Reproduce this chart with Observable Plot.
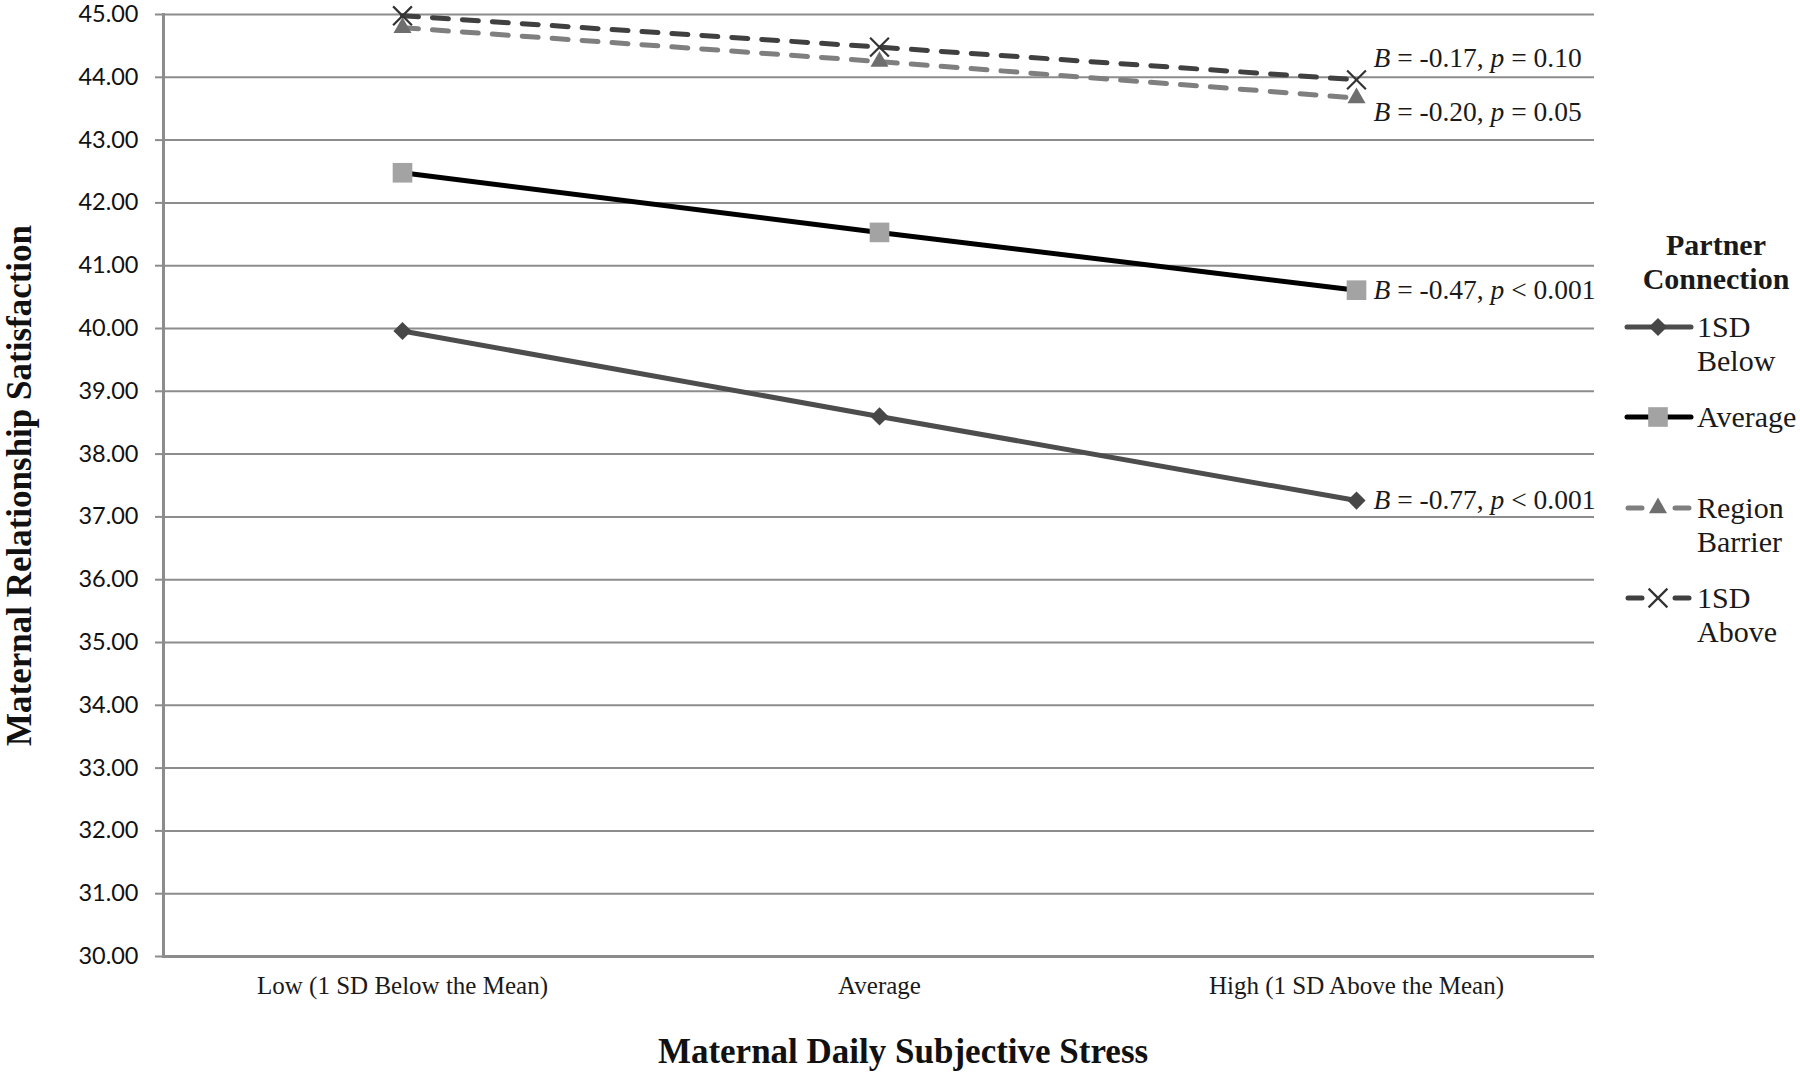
<!DOCTYPE html>
<html>
<head>
<meta charset="utf-8">
<script src="https://cdn.jsdelivr.net/npm/d3@7"></script>
<script src="https://cdn.jsdelivr.net/npm/@observablehq/plot@0.6"></script>
<style>
  html, body { margin: 0; padding: 0; background: #fff; }
  #wrap { position: relative; width: 1800px; height: 1074px; }
  svg g[aria-label="y-axis label"], svg g[aria-label="x-axis label"] {
    font-family: "Liberation Serif", serif; font-weight: bold; font-size: 35px; fill: #111;
  }
  #legend { position: absolute; left: 1625px; top: 228px; font-family: "Liberation Serif", serif; color: #1a1a1a; }
  #legend .title { position: absolute; left: -9px; width: 200px; text-align: center; font-weight: bold; font-size: 30px; line-height: 34px; top: 0; }
  #legend .item { position: absolute; left: 0; height: 90px; width: 175px; }
  #legend .item svg { position: absolute; left: 0; top: 8px; }
  #legend .item .lab { position: absolute; left: 72px; top: 2px; width: 110px; font-size: 30px; line-height: 34px; }
</style>
</head>
<body>
<div id="wrap"></div>
<script>
// ---- data ----
const categories = ["Low (1 SD Below the Mean)", "Average", "High (1 SD Above the Mean)"];
const seriesNames = ["1SD Below", "Average", "Region Barrier", "1SD Above"];
const below   = [39.96, 38.60, 37.26];
const average = [42.48, 41.53, 40.61];
const barrier = [44.79, 44.25, 43.67];
const above   = [44.98, 44.48, 43.96];
const annotations = ["B = -0.77, p < 0.001", "B = -0.47, p < 0.001", "B = -0.20, p = 0.05", "B = -0.17, p = 0.10"];
const yTicks = [30, 31, 32, 33, 34, 35, 36, 37, 38, 39, 40, 41, 42, 43, 44, 45];
const legendTitle = "Partner Connection";
const xTitle = "Maternal Daily Subjective Stress";
const yTitle = "Maternal Relationship Satisfaction";

// ---- styles (separate from data) ----
const seriesValues = [below, average, barrier, above];
const styles = [
  {line: "#4d4d4d", dash: null, symbol: "diamond2", r: 8.2, fill: "#474747", stroke: "none", annDy: 0},
  {line: "#000000", dash: null, symbol: "square2", r: 12.5, fill: "#a3a3a3", stroke: "none", annDy: 0},
  {line: "#7f7f7f", dash: "16,14", symbol: "triangle2", r: 8.6, fill: "#6e6e6e", stroke: "none", annDy: 14},
  {line: "#404040", dash: "16,14", symbol: "times", r: 8.6, fill: "none", stroke: "#333333", annDy: -22}
];

const rows = [];
seriesNames.forEach((s, i) => categories.forEach((c, j) => rows.push({series: s, cat: c, value: seriesValues[i][j], idx: i})));

const marks = [
  Plot.gridY(yTicks, {stroke: "#8c8c8c", strokeOpacity: 1, strokeWidth: 2}),
  Plot.ruleY([30], {stroke: "#8c8c8c", strokeWidth: 3}),
  Plot.frame({anchor: "left", stroke: "#8c8c8c", strokeWidth: 3}),
  Plot.axisY(yTicks, {
    tickSize: 8, tickPadding: 17, tickFormat: d => d.toFixed(2),
    fontFamily: "Lato, sans-serif", fontSize: 23.5, stroke: "#8c8c8c", strokeWidth: 2, fill: "#111",
    label: yTitle, labelAnchor: "center", labelOffset: 157, labelArrow: "none"
  }),
  Plot.axisX({
    tickSize: 0, tickPadding: 20, fontSize: 25, fill: "#1a1a1a",
    label: xTitle, labelAnchor: "center", labelOffset: 106, labelArrow: "none"
  })
];

seriesNames.forEach((s, i) => {
  const st = styles[i];
  const data = rows.filter(d => d.series === s);
  marks.push(Plot.line(data, {x: "cat", y: "value", stroke: st.line, strokeWidth: 5,
    strokeDasharray: st.dash, strokeLinecap: st.dash ? "round" : "butt", strokeLinejoin: "round"}));
});
seriesNames.forEach((s, i) => {
  const st = styles[i];
  const data = rows.filter(d => d.series === s);
  marks.push(Plot.dot(data, {x: "cat", y: "value", symbol: st.symbol, r: st.r, fill: st.fill,
    stroke: st.stroke, strokeWidth: st.stroke === "none" ? 0 : 2.2}));
  const last = data.filter(d => d.cat === categories[categories.length - 1]);
  marks.push(Plot.text(last, {x: "cat", y: "value", text: () => annotations[i], dx: 17, dy: st.annDy,
    textAnchor: "start", fontSize: 27.5, fill: "#1a1a1a", fontFamily: "Liberation Serif, serif"}));
});

const chart = Plot.plot({
  width: 1800, height: 1074,
  marginLeft: 163, marginRight: 206, marginTop: 14, marginBottom: 118,
  style: {fontFamily: "'Liberation Serif', serif", fontSize: "22px", color: "#1a1a1a", background: "white", overflow: "visible"},
  x: {type: "point", domain: categories, padding: 0.5, label: null},
  y: {domain: [30, 45], label: null},
  marks
});

// italicize B and p in annotations
d3.select(chart).selectAll("text").each(function() {
  const t = this.textContent;
  if (/^B = /.test(t)) {
    const sel = d3.select(this);
    sel.text(null);
    const parts = t.split(/(B|p)/).filter(x => x !== "");
    parts.forEach(p => {
      const ts = sel.append("tspan").text(p);
      if (p === "B" || p === "p") ts.attr("font-style", "italic");
    });
  }
});

// nudge the x-axis title to the right, as in the original
const xl = chart.querySelector('g[aria-label="x-axis label"]');
if (xl) xl.setAttribute("transform", ((xl.getAttribute("transform") || "") + " translate(24,0)").trim());

const wrap = document.getElementById("wrap");
wrap.appendChild(chart);

// ---- legend ----
const legend = document.createElement("div");
legend.id = "legend";
const title = document.createElement("div");
title.className = "title";
title.textContent = legendTitle;
legend.appendChild(title);

function markerPath(symbol, r) {
  const sizes = {diamond2: d3.symbolDiamond2, square2: d3.symbolSquare2, triangle2: d3.symbolTriangle2, times: d3.symbolTimes};
  return d3.symbol(sizes[symbol], r * r * Math.PI)();
}
seriesNames.forEach((s, i) => {
  const st = styles[i];
  const item = document.createElement("div");
  item.className = "item";
  item.style.top = (80 + i * 90.3) + "px";
  const ns = "http://www.w3.org/2000/svg";
  const svg = document.createElementNS(ns, "svg");
  svg.setAttribute("width", 70); svg.setAttribute("height", 24);
  svg.style.overflow = "visible";
  const g = d3.select(svg);
  if (st.dash) {
    g.append("line").attr("x1", 3).attr("x2", 17).attr("y1", 11).attr("y2", 11).attr("stroke", st.line).attr("stroke-width", 5).attr("stroke-linecap", "round");
    g.append("line").attr("x1", 50).attr("x2", 64).attr("y1", 11).attr("y2", 11).attr("stroke", st.line).attr("stroke-width", 5).attr("stroke-linecap", "round");
  } else {
    g.append("line").attr("x1", 2).attr("x2", 66).attr("y1", 11).attr("y2", 11).attr("stroke", st.line).attr("stroke-width", 5).attr("stroke-linecap", "round");
  }
  g.append("path").attr("d", markerPath(st.symbol, st.r)).attr("transform", "translate(33,11)")
    .attr("fill", st.fill).attr("stroke", st.stroke).attr("stroke-width", st.stroke === "none" ? 0 : 2.2);
  item.appendChild(svg);
  const lab = document.createElement("div");
  lab.className = "lab";
  lab.textContent = s;
  item.appendChild(lab);
  legend.appendChild(item);
});
wrap.appendChild(legend);
</script>
</body>
</html>
